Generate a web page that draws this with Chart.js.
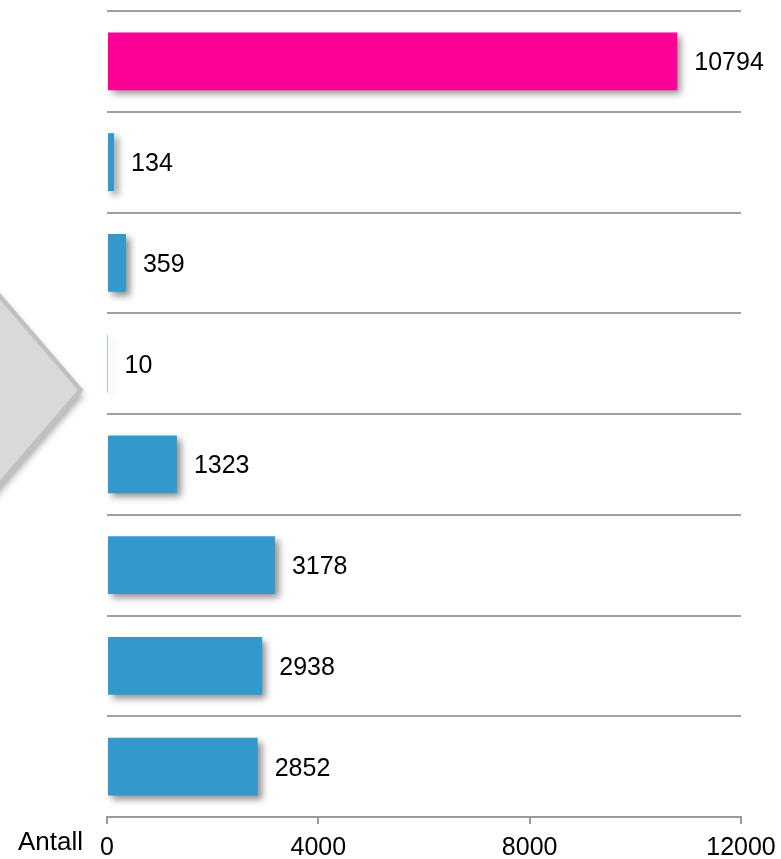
<!DOCTYPE html>
<html>
<head>
<meta charset="utf-8">
<script src="https://cdn.jsdelivr.net/npm/chart.js@4"></script>
<style>
    body { margin: 0; background: #fff; }
    #wrap { position: relative; width: 781px; height: 859px; overflow: hidden; }
    #pil {
        position: absolute; width: 200px; height: 200px;
        left: -158px; top: 290px;
        transform: scaleY(1.16) rotate(45deg);
        background: #d9d9d9; border: 4px solid #c0c0c0; box-sizing: border-box;
        box-shadow: 3px 3px 7px rgba(0,0,0,0.35);
    }
    canvas { position: absolute; left: 0; top: 0; }
</style>
</head>
<body>
<div id="wrap">
    <div id="pil"></div>
    <canvas id="grafica" width="781" height="873"></canvas>
</div>
<script>
// datos
const kategorier = ['Totalt', 'Kategori 1', 'Kategori 2', 'Kategori 3', 'Kategori 4', 'Kategori 5', 'Kategori 6', 'Kategori 7'];
const antall = [10794, 134, 359, 10, 1323, 3178, 2938, 2852];
const farger = ['#ff0096', '#3399cc', '#3399cc', '#3399cc', '#3399cc', '#3399cc', '#3399cc', '#3399cc'];
const xTicks = [0, 4000, 8000, 12000];
const aksetittel = 'Antall';

const fuente = '"Liberation Sans", Arial, sans-serif';

// sombra de las barras
const sombra = {
    id: 'sombra',
    beforeDatasetDraw(chart) {
        const ctx = chart.ctx;
        ctx.save();
        ctx.shadowColor = 'rgba(0,0,0,0.45)';
        ctx.shadowBlur = 7;
        ctx.shadowOffsetX = 4;
        ctx.shadowOffsetY = 4;
    },
    afterDatasetDraw(chart) {
        chart.ctx.restore();
    }
};

// etiquetas con el valor y el título del eje
const etiquetas = {
    id: 'etiquetas',
    afterDatasetsDraw(chart) {
        const ctx = chart.ctx;
        const meta = chart.getDatasetMeta(0);
        ctx.save();
        ctx.fillStyle = '#000';
        ctx.font = '25px ' + fuente;
        ctx.textBaseline = 'middle';
        ctx.textAlign = 'left';
        meta.data.forEach((bar, i) => {
            ctx.fillText(String(antall[i]), bar.x + 17, bar.y + 2);
        });
        const xs = chart.scales.x;
        ctx.font = '26px ' + fuente;
        ctx.textAlign = 'right';
        ctx.textBaseline = 'alphabetic';
        ctx.fillText(aksetittel, xs.left - 24, xs.top + 33);
        ctx.restore();
    }
};

new Chart(document.getElementById('grafica'), {
    type: 'bar',
    data: {
        labels: kategorier,
        datasets: [{
            data: antall,
            backgroundColor: farger,
            borderWidth: 0,
            barPercentage: 0.575,
            categoryPercentage: 1
        }]
    },
    options: {
        indexAxis: 'y',
        responsive: false,
        animation: false,
        layout: { padding: { left: 107, right: 40, top: 11, bottom: 0 } },
        plugins: { legend: { display: false }, tooltip: { enabled: false } },
        scales: {
            x: {
                min: 0,
                max: 12000,
                afterBuildTicks: (axis) => { axis.ticks = xTicks.map(v => ({ value: v })); },
                // el último rótulo puede salirse del área, como en el original
                afterFit: (axis) => { axis.paddingRight = 0; },
                grid: { drawOnChartArea: false, drawTicks: true, tickLength: 7, color: '#999', lineWidth: 2 },
                border: { display: true, color: '#999', width: 2 },
                ticks: {
                    color: '#000',
                    font: { family: fuente, size: 25, lineHeight: 1 },
                    padding: 12,
                    maxRotation: 0,
                    callback: (v) => String(v)
                }
            },
            y: {
                grid: { color: '#a0a0a0', lineWidth: 2, drawTicks: false, offset: true },
                border: { display: false },
                ticks: { display: false }
            }
        }
    },
    plugins: [sombra, etiquetas]
});
</script>
</body>
</html>
